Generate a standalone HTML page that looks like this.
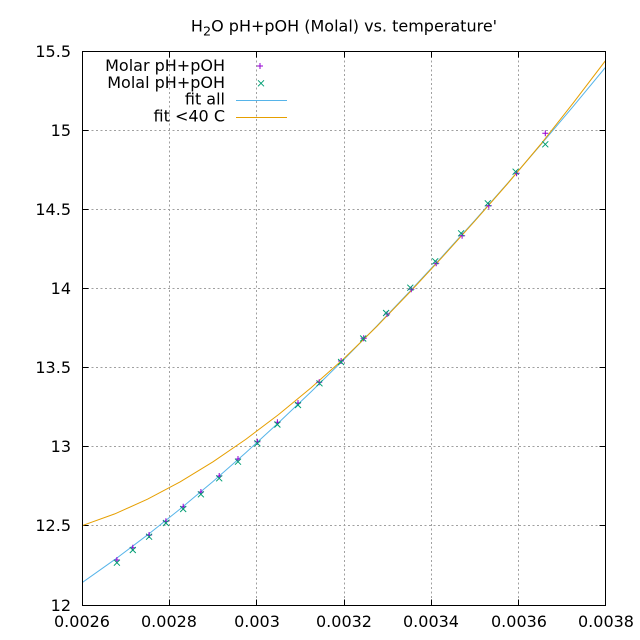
<!DOCTYPE html>
<html>
<head>
<meta charset="utf-8">
<style>
html,body{margin:0;padding:0;background:#fff;}
svg{display:block;}
text{font-family:"DejaVu Sans","Liberation Sans",sans-serif;font-size:16px;fill:#000;}
</style>
</head>
<body>
<svg width="640" height="640" viewBox="0 0 640 640" xmlns="http://www.w3.org/2000/svg">
<rect x="0" y="0" width="640" height="640" fill="#fff"/>
<defs>
<clipPath id="pc"><rect x="82.5" y="51.5" width="523" height="554"/></clipPath>
</defs>
<!-- grid -->
<g stroke="#a0a0a0" stroke-width="1" stroke-dasharray="2,2.5" fill="none">
<line x1="169.5" y1="51.5" x2="169.5" y2="605.5"/>
<line x1="256.5" y1="51.5" x2="256.5" y2="605.5"/>
<line x1="344.5" y1="51.5" x2="344.5" y2="605.5"/>
<line x1="431.5" y1="51.5" x2="431.5" y2="605.5"/>
<line x1="518.5" y1="51.5" x2="518.5" y2="605.5"/>
<line x1="82.5" y1="130.5" x2="605.5" y2="130.5"/>
<line x1="82.5" y1="209.5" x2="605.5" y2="209.5"/>
<line x1="82.5" y1="288.5" x2="605.5" y2="288.5"/>
<line x1="82.5" y1="367.5" x2="605.5" y2="367.5"/>
<line x1="82.5" y1="446.5" x2="605.5" y2="446.5"/>
<line x1="82.5" y1="525.5" x2="605.5" y2="525.5"/>
</g>
<!-- ticks -->
<g stroke="#000" stroke-width="1">
<path d="M82.5 51.5h6M82.5 130.5h6M82.5 209.5h6M82.5 288.5h6M82.5 367.5h6M82.5 446.5h6M82.5 525.5h6M82.5 605.5h6"/>
<path d="M605.5 51.5h-6M605.5 130.5h-6M605.5 209.5h-6M605.5 288.5h-6M605.5 367.5h-6M605.5 446.5h-6M605.5 525.5h-6M605.5 605.5h-6"/>
<path d="M82.5 605.5v-6M169.5 605.5v-6M256.5 605.5v-6M344.5 605.5v-6M431.5 605.5v-6M518.5 605.5v-6M605.5 605.5v-6"/>
<path d="M82.5 51.5v6M169.5 51.5v6M256.5 51.5v6M344.5 51.5v6M431.5 51.5v6M518.5 51.5v6M605.5 51.5v6"/>
</g>
<!-- y labels -->
<g text-anchor="end">
<text x="71" y="57">15.5</text>
<text x="71" y="136">15</text>
<text x="71" y="215">14.5</text>
<text x="71" y="294">14</text>
<text x="71" y="373">13.5</text>
<text x="71" y="452">13</text>
<text x="71" y="531">12.5</text>
<text x="71" y="611">12</text>
</g>
<!-- x labels -->
<g text-anchor="middle">
<text x="82" y="627">0.0026</text>
<text x="169" y="627">0.0028</text>
<text x="257" y="627">0.003</text>
<text x="344" y="627">0.0032</text>
<text x="431" y="627">0.0034</text>
<text x="519" y="627">0.0036</text>
<text x="606" y="627">0.0038</text>
</g>
<!-- title -->
<text x="344" y="31.5" text-anchor="middle">H<tspan font-size="12.8" dy="4">2</tspan><tspan dy="-4">O pH+pOH (Molal) vs. temperature'</tspan></text>

<g clip-path="url(#pc)" fill="none" stroke-width="1">
<!-- fit all (blue) -->
<polyline stroke="#56b4e9" points="82,582.7 114.75,559.59 147.5,534.96 180.25,508.89 213,481.45 245.75,452.72 278.5,422.75 311.25,391.61 344,359.36 376.75,326.04 409.5,291.71 442.25,256.41 475,220.17 507.75,183.05 540.5,145.08 573.25,106.28 606,66.71"/>
<!-- fit <40 C (orange) -->
<polyline stroke="#e69f00" points="82,525.7 114.75,513.9 147.5,499.22 180.25,481.81 213,461.82 245.75,439.37 278.5,414.59 311.25,387.58 344,358.47 376.75,326.5 409.5,292.5 442.25,257.2 475,220.8 507.75,183.5 540.5,144.5 573.25,102.96 606,59.97"/>
</g>

<!-- Molar markers (+) -->
<g stroke="#9400d3" stroke-width="1" fill="none">
<path d="M113.9 560h6M116.9 557v6
M129.8 547.7h6M132.8 544.7v6
M146.1 535h6M149.1 532v6
M162.9 521.3h6M165.9 518.3v6
M180.2 506.7h6M183.2 503.7v6
M197.9 492h6M200.9 489v6
M216.2 476h6M219.2 473v6
M235 459h6M238 456v6
M254.4 441.7h6M257.4 438.7v6
M274.4 422.3h6M277.4 419.3v6
M295 403h6M298 400v6
M316.2 382.3h6M319.2 379.3v6
M338.1 361h6M341.1 358v6
M360.7 338.3h6M363.7 335.3v6
M384.1 314h6M387.1 311v6
M408.3 289.3h6M411.3 286.3v6
M433.2 263.3h6M436.2 260.3v6
M459.1 235.7h6M462.1 232.7v6
M485.8 205.7h6M488.8 202.7v6
M513.6 173.3h6M516.6 170.3v6
M542.3 133.3h6M545.3 130.3v6"/>
</g>
<!-- Molal markers (x) -->
<g stroke="#009e73" stroke-width="1" fill="none">
<path d="M113.9 559.7l6 6M113.9 565.7l6 -6
M129.8 547l6 6M129.8 553l6 -6
M146.1 533.7l6 6M146.1 539.7l6 -6
M162.9 520l6 6M162.9 526l6 -6
M180.2 506l6 6M180.2 512l6 -6
M197.9 491.3l6 6M197.9 497.3l6 -6
M216.2 475.3l6 6M216.2 481.3l6 -6
M235 458.7l6 6M235 464.7l6 -6
M254.4 440.3l6 6M254.4 446.3l6 -6
M274.4 421.5l6 6M274.4 427.5l6 -6
M295 402l6 6M295 408l6 -6
M316.5 380.3l6 6M316.5 386.3l6 -6
M338.1 359l6 6M338.1 365l6 -6
M360.2 335.5l6 6M360.2 341.5l6 -6
M383.1 310l6 6M383.1 316l6 -6
M407.3 284.7l6 6M407.3 290.7l6 -6
M432.2 258.3l6 6M432.2 264.3l6 -6
M458.1 230.3l6 6M458.1 236.3l6 -6
M484.8 200.3l6 6M484.8 206.3l6 -6
M512.6 168.7l6 6M512.6 174.7l6 -6
M542.3 141.3l6 6M542.3 147.3l6 -6"/>
</g>

<!-- border -->
<rect x="82.5" y="51.5" width="523" height="554" fill="none" stroke="#000" stroke-width="1"/>

<!-- legend -->
<g text-anchor="end">
<text x="225" y="71">Molar pH+pOH</text>
<text x="225" y="88">Molal pH+pOH</text>
<text x="225" y="104.5">fit all</text>
<text x="225" y="121.5">fit &lt;40 C</text>
</g>
<path d="M257 66h6M260 63v6" stroke="#9400d3" stroke-width="1" fill="none"/>
<path d="M258 80.3l6 6M258 86.3l6 -6" stroke="#009e73" stroke-width="1" fill="none"/>
<line x1="236" y1="100.5" x2="287" y2="100.5" stroke="#56b4e9" stroke-width="1"/>
<line x1="236" y1="117.5" x2="287" y2="117.5" stroke="#e69f00" stroke-width="1"/>
</svg>
</body>
</html>
